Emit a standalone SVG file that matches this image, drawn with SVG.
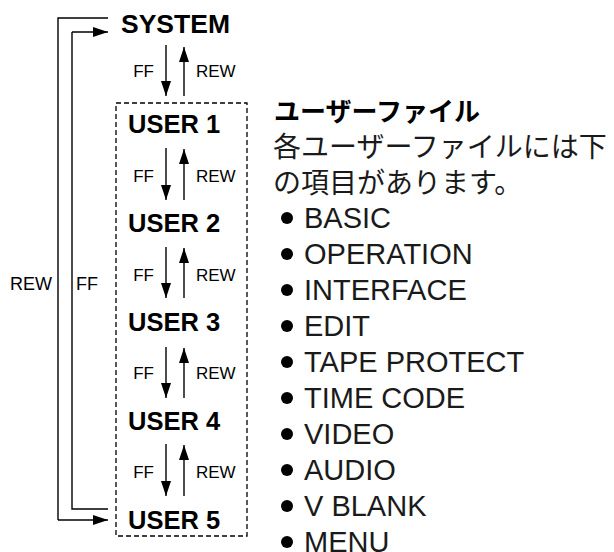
<svg xmlns="http://www.w3.org/2000/svg" width="614" height="552" viewBox="0 0 614 552">
<defs>
<marker id="ah" markerUnits="userSpaceOnUse" markerWidth="16" markerHeight="11" refX="15" refY="5" orient="auto">
<path d="M0,0 L15,5 L0,10 Z" fill="#000"/>
</marker>
<style>
.ln{fill:none;stroke:#000;stroke-width:1.4}
.ar{fill:none;stroke:#000;stroke-width:1.4;marker-end:url(#ah)}
.box{fill:none;stroke:#000;stroke-width:1.3;stroke-dasharray:5 3}
.nd{font-family:"Liberation Sans",Arial,sans-serif;font-weight:bold;font-size:25.5px;fill:#000}
.sm{font-family:"Liberation Sans",Arial,sans-serif;font-size:17px;fill:#000}
.jt{font-family:"Noto Sans CJK JP","Liberation Sans",sans-serif;font-weight:bold;font-size:26px;fill:#000}
.jb{font-family:"Noto Sans CJK JP","Liberation Sans",sans-serif;font-size:28px;fill:#1a1a1a}
.it{font-family:"Liberation Sans",Arial,sans-serif;font-size:29px;fill:#1a1a1a}
.bl{fill:#000}
</style>
</defs>
<rect width="614" height="552" fill="#fff"/>

<g id="system"><text class="nd" x="121" y="33" style="font-size:26.5px">SYSTEM</text></g>
<g id="userbox"><rect class="box" x="116" y="103" width="131" height="433"/></g>
<g id="user1"><text class="nd" x="128" y="133">USER 1</text></g>
<g id="user2"><text class="nd" x="128" y="232">USER 2</text></g>
<g id="user3"><text class="nd" x="128" y="331">USER 3</text></g>
<g id="user4"><text class="nd" x="128" y="430">USER 4</text></g>
<g id="user5"><text class="nd" x="128" y="529">USER 5</text></g>

<g id="connectors">
<path class="ln" d="M108,18 H58 V520"/>
<path class="ar" d="M58,520 H108"/>
<path class="ln" d="M108,509 H72 V32"/>
<path class="ar" d="M72,32 H108"/>
<text class="sm" x="10" y="290" style="font-size:18px">REW</text>
<text class="sm" x="76" y="290" style="font-size:18px">FF</text>

<path class="ar" d="M166,45 V96"/><path class="ar" d="M184,96 V47"/>
<text class="sm" x="154" y="77" text-anchor="end">FF</text><text class="sm" x="196" y="77">REW</text>

<path class="ar" d="M166,148 V200"/><path class="ar" d="M184,200 V149"/>
<text class="sm" x="154" y="182" text-anchor="end">FF</text><text class="sm" x="196" y="182">REW</text>

<path class="ar" d="M166,247 V298"/><path class="ar" d="M184,298 V248"/>
<text class="sm" x="154" y="281" text-anchor="end">FF</text><text class="sm" x="196" y="281">REW</text>

<path class="ar" d="M166,347 V398"/><path class="ar" d="M184,398 V348"/>
<text class="sm" x="154" y="379" text-anchor="end">FF</text><text class="sm" x="196" y="379">REW</text>

<path class="ar" d="M166,444 V496"/><path class="ar" d="M184,496 V445"/>
<text class="sm" x="154" y="478" text-anchor="end">FF</text><text class="sm" x="196" y="478">REW</text>
</g>

<g id="description">
<text class="jt" x="274" y="121">ユーザーファイル</text>
<text class="jb" x="273" y="157">各ユーザーファイルには下</text>
<text class="jb" x="273" y="193">の項目があります。</text>
<g class="bl">
<circle cx="287" cy="218" r="6"/><circle cx="287" cy="254" r="6"/><circle cx="287" cy="290" r="6"/><circle cx="287" cy="326" r="6"/><circle cx="287" cy="362" r="6"/><circle cx="287" cy="398" r="6"/><circle cx="287" cy="434" r="6"/><circle cx="287" cy="470" r="6"/><circle cx="287" cy="506" r="6"/><circle cx="287" cy="542" r="6"/>
</g>
<text class="it" x="304" y="228">BASIC</text>
<text class="it" x="304" y="264">OPERATION</text>
<text class="it" x="304" y="300">INTERFACE</text>
<text class="it" x="304" y="336">EDIT</text>
<text class="it" x="304" y="372">TAPE PROTECT</text>
<text class="it" x="304" y="408">TIME CODE</text>
<text class="it" x="304" y="444">VIDEO</text>
<text class="it" x="304" y="480">AUDIO</text>
<text class="it" x="304" y="516">V BLANK</text>
<text class="it" x="304" y="552">MENU</text>
</g>
</svg>
